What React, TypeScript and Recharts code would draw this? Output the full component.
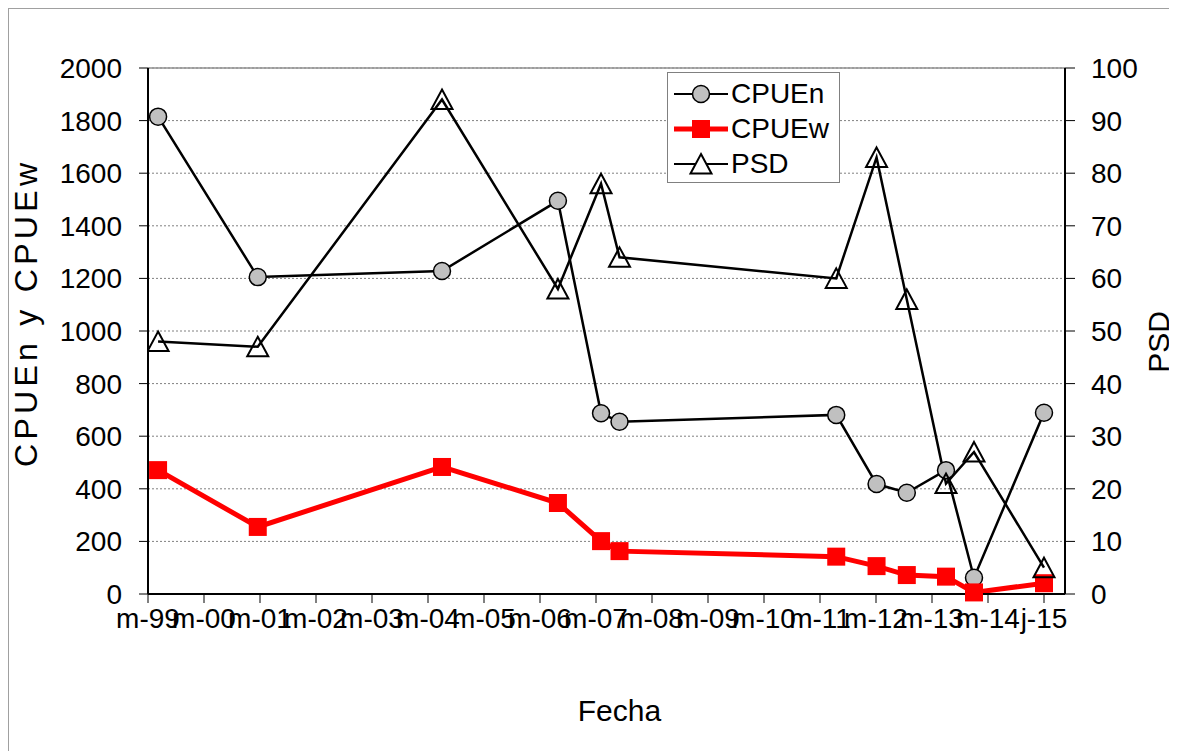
import React from "react";
import {
  CartesianGrid,
  ComposedChart,
  Legend,
  Line,
  ReferenceLine,
  XAxis,
  YAxis,
} from "recharts";

const FONT = '"Liberation Sans", Arial, sans-serif';

// fecha de muestreo, como año decimal (m-99 = 1999)
const fechas = [
  1999.18, 2000.96, 2004.25, 2006.32, 2007.09, 2007.42, 2011.29, 2012.01,
  2012.55, 2013.25, 2013.75, 2015.0,
];
const cpueN = [1815, 1205, 1228, 1495, 687, 655, 681, 418, 385, 471, 62, 689];
const cpueW = [471, 255, 483, 346, 201, 163, 142, 106, 72, 66, 6, 41];
const psd = [48, 47, 94, 58, 78, 64, 60, 83, 56, 21, 27, 5];

const xTickYears = [
  1999, 2000, 2001, 2002, 2003, 2004, 2005, 2006, 2007, 2008, 2009, 2010, 2011,
  2012, 2013, 2014, 2015,
];
const xTickLabels = [
  "m-99", "m-00", "m-01", "m-02", "m-03", "m-04", "m-05", "m-06", "m-07",
  "m-08", "m-09", "m-10", "m-11", "m-12", "m-13", "m-14", "j-15",
];
const leftTicks = [0, 200, 400, 600, 800, 1000, 1200, 1400, 1600, 1800, 2000];
const rightTicks = [0, 10, 20, 30, 40, 50, 60, 70, 80, 90, 100];

const data = fechas.map((fecha, i) => ({
  fecha,
  cpueN: cpueN[i],
  cpueW: cpueW[i],
  psd: psd[i],
}));

const tickStyle = { fill: "#000", fontSize: 28, fontFamily: FONT };

function CircleDot(props: any) {
  const { cx, cy, index } = props;
  if (cx == null || cy == null) return <g key={`c${index}`} />;
  return (
    <circle key={`c${index}`} cx={cx} cy={cy} r={8.5} fill="#c0c0c0" stroke="#000" strokeWidth={1.5} />
  );
}

function SquareDot(props: any) {
  const { cx, cy, index } = props;
  if (cx == null || cy == null) return <g key={`s${index}`} />;
  return <rect key={`s${index}`} x={cx - 9} y={cy - 9} width={18} height={18} fill="#ff0000" />;
}

function TriangleDot(props: any) {
  const { cx, cy, index } = props;
  if (cx == null || cy == null) return <g key={`t${index}`} />;
  return (
    <path
      key={`t${index}`}
      d={`M${cx},${cy - 10} L${cx + 10.5},${cy + 9.5} L${cx - 10.5},${cy + 9.5} Z`}
      fill="none"
      stroke="#000"
      strokeWidth={2}
      strokeLinejoin="miter"
    />
  );
}

function LegendMarker({ dataKey }: { dataKey: string }) {
  if (dataKey === "cpueW") {
    return (
      <svg width={63} height={30}>
        <line x1={6} y1={15} x2={60} y2={15} stroke="#ff0000" strokeWidth={5} />
        <rect x={24} y={6} width={18} height={18} fill="#ff0000" />
      </svg>
    );
  }
  if (dataKey === "psd") {
    return (
      <svg width={63} height={30}>
        <line x1={6} y1={15} x2={60} y2={15} stroke="#000" strokeWidth={2} />
        <path d="M33,5 L43.5,24.5 L22.5,24.5 Z" fill="#fff" stroke="#000" strokeWidth={2} />
      </svg>
    );
  }
  return (
    <svg width={63} height={30}>
      <line x1={6} y1={15} x2={60} y2={15} stroke="#000" strokeWidth={2} />
      <circle cx={33} cy={15} r={8.5} fill="#c0c0c0" stroke="#000" strokeWidth={1.5} />
    </svg>
  );
}

function LegendBox({ payload }: any) {
  return (
    <div
      style={{
        width: 173,
        height: 111,
        boxSizing: "border-box",
        border: "1px solid #808080",
        background: "#fff",
        paddingTop: 3,
        fontFamily: FONT,
      }}
    >
      {(payload ?? []).map((entry: any) => (
        <div
          key={String(entry.dataKey)}
          style={{ display: "flex", alignItems: "center", height: 35 }}
        >
          <LegendMarker dataKey={String(entry.dataKey)} />
          <span style={{ fontSize: 28, color: "#000", lineHeight: "30px" }}>{entry.value}</span>
        </div>
      ))}
    </div>
  );
}

export default function App() {
  return (
    <div
      style={{
        width: 1168,
        height: 742,
        borderTop: "1px solid #a0a0a0",
        borderLeft: "1px solid #a0a0a0",
        background: "#fff",
        fontFamily: FONT,
      }}
    >
      <ComposedChart
        width={1168}
        height={742}
        data={data}
        margin={{ top: 59, right: 0, bottom: 0, left: 0 }}
      >
        <CartesianGrid
          yAxisId="left"
          vertical={false}
          stroke="#808080"
          strokeDasharray="2 2"
        />
        <ReferenceLine yAxisId="left" y={2000} stroke="#909090" strokeWidth={1.5} />
        <XAxis
          dataKey="fecha"
          type="number"
          domain={[1999, 2015.375]}
          allowDataOverflow
          ticks={xTickYears}
          interval={0}
          tickFormatter={(v: number) => xTickLabels[xTickYears.indexOf(v)] ?? ""}
          tick={tickStyle}
          tickSize={9}
          tickMargin={5}
          height={157}
          axisLine={{ stroke: "#000", strokeWidth: 2 }}
          tickLine={{ stroke: "#000", strokeWidth: 1 }}
          label={{
            content: (p: any) => {
              const vb = p.viewBox;
              return (
                <text
                  x={vb.x + vb.width / 2 + 13}
                  y={vb.y + 116}
                  textAnchor="middle"
                  dominantBaseline="central"
                  fontSize={30}
                  fontFamily={FONT}
                  fill="#000"
                >
                  Fecha
                </text>
              );
            },
          }}
        />
        <YAxis
          yAxisId="left"
          domain={[0, 2000]}
          ticks={leftTicks}
          interval={0}
          width={139}
          tick={tickStyle}
          tickSize={9}
          tickMargin={17}
          axisLine={{ stroke: "#000", strokeWidth: 2 }}
          tickLine={{ stroke: "#000", strokeWidth: 1 }}
          label={{
            content: (p: any) => {
              const vb = p.viewBox;
              const x = vb.x + 17;
              const y = vb.y + vb.height / 2 - 16;
              return (
                <text
                  x={x}
                  y={y}
                  transform={`rotate(-90 ${x} ${y})`}
                  textAnchor="middle"
                  dominantBaseline="central"
                  fontSize={32}
                  fontFamily={FONT}
                  fill="#000"
                  textLength={304}
                  lengthAdjust="spacing"
                >
                  CPUEn y CPUEw
                </text>
              );
            },
          }}
        />
        <YAxis
          yAxisId="right"
          orientation="right"
          domain={[0, 100]}
          ticks={rightTicks}
          interval={0}
          width={112}
          tick={{ ...tickStyle, textAnchor: "start" }}
          tickSize={10}
          tickMargin={16}
          axisLine={{ stroke: "#000", strokeWidth: 2 }}
          tickLine={{ stroke: "#000", strokeWidth: 1 }}
          label={{
            content: (p: any) => {
              const vb = p.viewBox;
              const x = vb.x + 93;
              const y = vb.y + vb.height / 2 + 11;
              return (
                <text
                  x={x}
                  y={y}
                  transform={`rotate(-90 ${x} ${y})`}
                  textAnchor="middle"
                  dominantBaseline="central"
                  fontSize={30}
                  fontFamily={FONT}
                  fill="#000"
                >
                  PSD
                </text>
              );
            },
          }}
        />
        <Legend
          layout="vertical"
          align="center"
          verticalAlign="middle"
          wrapperStyle={{ left: 658, top: 63, width: 173 }}
          content={(props: any) => <LegendBox payload={props.payload} />}
        />
        <Line
          yAxisId="left"
          type="linear"
          dataKey="cpueN"
          name="CPUEn"
          stroke="#000"
          strokeWidth={2.5}
          dot={CircleDot}
          activeDot={false}
          isAnimationActive={false}
        />
        <Line
          yAxisId="left"
          type="linear"
          dataKey="cpueW"
          name="CPUEw"
          stroke="#ff0000"
          strokeWidth={5}
          dot={SquareDot}
          activeDot={false}
          isAnimationActive={false}
        />
        <Line
          yAxisId="right"
          type="linear"
          dataKey="psd"
          name="PSD"
          stroke="#000"
          strokeWidth={2.5}
          dot={TriangleDot}
          activeDot={false}
          isAnimationActive={false}
        />
      </ComposedChart>
    </div>
  );
}
